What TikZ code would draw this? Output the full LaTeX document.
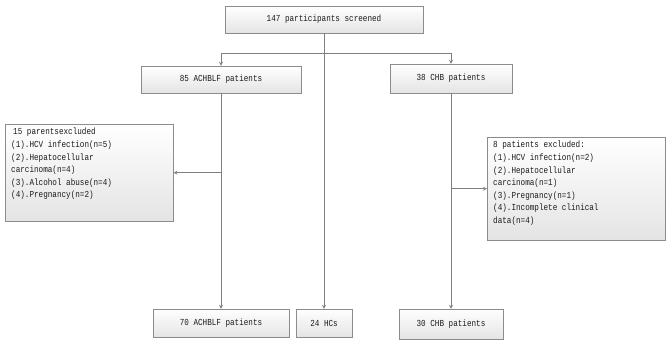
\documentclass[tikz,border=0pt]{standalone}
\usepackage{fontspec}
\setmonofont[FakeStretch=0.83]{Liberation Mono}
\usetikzlibrary{arrows,positioning}
\definecolor{frame}{HTML}{8C8C8C}
\definecolor{wire}{HTML}{7F7F7F}
\definecolor{shade}{HTML}{E4E4E4}
\definecolor{ink}{HTML}{1A1A1A}
\tikzset{
  every node/.style={font=\ttfamily\fontsize{9.2}{12.6}\selectfont,text=ink},
  box/.style={draw=frame,top color=white,bottom color=shade,inner sep=0pt,align=center},
  note/.style={box,anchor=north west,align=left,inner xsep=6pt,inner ysep=4pt},
  ar/.style={->,>=stealth,draw=wire,line width=0.8pt},
}

\begin{document}
\begin{tikzpicture}[x=1pt,y=-1pt]
\useasboundingbox (0,0) rectangle (670,345);

% ---- screening ----
\node[box,minimum width=198pt,minimum height=27pt] (scr) at (324,19.5) {147 participants screened};

% ---- two cohorts ----
\node[box,minimum width=160pt,minimum height=27pt] (ach) at (221,79.5) {85 ACHBLF patients};
\node[box,minimum width=122pt,minimum height=29pt] (chb) at (451,78.5) {38 CHB patients};

% ---- exclusions ----
\node[note] (exl) at (5,124)
  {\parbox[t][89pt][t]{156pt}{\hspace{2pt}15 parentsexcluded\\
   (1).HCV infection(n=5)\\
   (2).Hepatocellular\\
   carcinoma(n=4)\\
   (3).Alcohol abuse(n=4)\\
   (4).Pregnancy(n=2)}};
\node[note] (exr) at (487,137)
  {\parbox[t][95pt][t]{166pt}{8 patients excluded:\\
   (1).HCV infection(n=2)\\
   (2).Hepatocellular\\
   carcinoma(n=1)\\
   (3).Pregnancy(n=1)\\
   (4).Incomplete clinical\\
   data(n=4)}};

% ---- final groups ----
\node[box,minimum width=136pt,minimum height=28pt] (ach2) at (221,323) {70 ACHBLF patients};
\node[box,minimum width=56pt,minimum height=28pt] (hc) at (324,323) {24 HCs};
\node[box,minimum width=104pt,minimum height=30pt] (chb2) at (451,324) {30 CHB patients};

% ---- connectors ----
\coordinate (split) at (scr.south |- 0,53);
\draw[ar] (scr.south) -- (hc.north);
\draw[ar] (split) -| (ach.north);
\draw[ar] (split) -| (chb.north);
\draw[ar] (ach.south) -- (ach2.north);
\draw[ar] (ach.south |- exl.east) -- (exl.east);
\draw[ar] (chb.south) -- (chb2.north);
\draw[ar] (chb.south |- exr.west) -- (exr.west);

\end{tikzpicture}
\end{document}
